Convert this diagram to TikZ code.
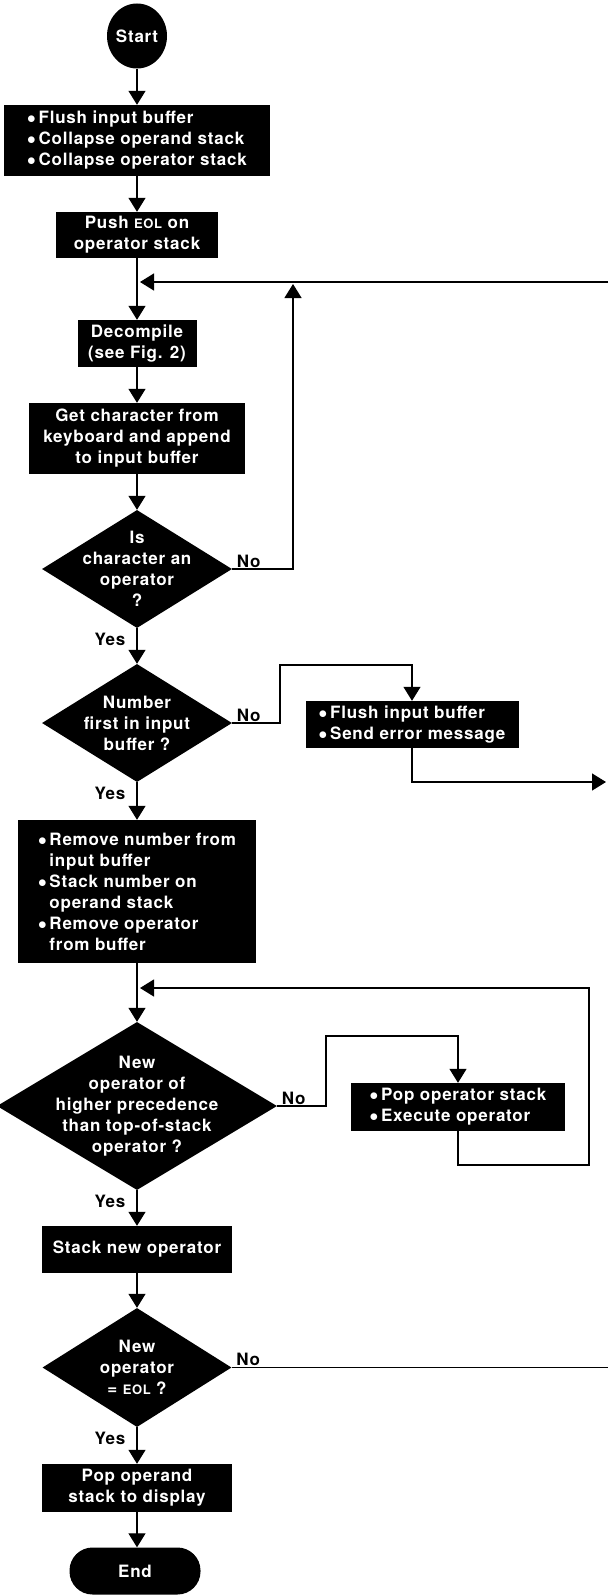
\documentclass[tikz,border=0pt]{standalone}
\usepackage{fontspec}
\usepackage{tikz}
\usetikzlibrary{arrows.meta,shapes.geometric}
\newfontfamily\chartfont[LetterSpace=4.5]{TeX Gyre Heros}
\def\eol{{\fontsize{13}{13}\selectfont EOL}}
\def\bul{$\bullet$\,}

\begin{document}
\begin{tikzpicture}[x=1pt, y=-1pt,
		font={\chartfont\bfseries\fontsize{17}{21}\selectfont},
		box/.style={fill=black, text=white, inner sep=0pt, align=center},
		bullets/.style={box, align=left},
		decision/.style={diamond, fill=black, inner sep=0pt},
		dectext/.style={text=white, align=center, inner sep=0pt},
		link/.style={line width=1.3pt},
		arr/.style={link, -{Triangle[width=17pt,length=14pt]}},
		yeslab/.style={anchor=north east, inner sep=0pt, xshift=-11pt, yshift=-4pt},
		nolab/.style={anchor=base west, inner sep=0pt, xshift=4pt, yshift=2pt}]
			%%%%% START %%%%%
			
			\useasboundingbox (0, 0) rectangle (608, 1595);
			
			\node[ellipse, fill=black, text=white, inner sep=0pt, minimum width=60pt, minimum height=65pt] (start) at (137, 36) {Start};
			\node[bullets, minimum width=266pt, minimum height=71pt] (flush) at (137, 140.5) {\bul Flush input buffer\\\bul Collapse operand stack\\\bul Collapse operator stack};
			\node[box, minimum width=162pt, minimum height=46pt] (pusheol) at (137, 235) {Push \eol{} on\\operator stack};
			\node[box, minimum width=119pt, minimum height=47pt] (decomp) at (137, 343.5) {Decompile\\(see Fig. 2)};
			\node[box, minimum width=216pt, minimum height=71pt] (getchar) at (137, 438.5) {Get character from\\keyboard and append\\to input buffer};
			
			\node[decision, minimum width=190pt, minimum height=118pt, label={[dectext]center:{Is\\character an\\operator\\?}}] (isop) at (137, 569) {};
			\node[decision, minimum width=190pt, minimum height=118pt, label={[dectext]center:{Number\\first in input\\buffer ?}}] (numq) at (137, 723) {};
			\node[bullets, minimum width=213pt, minimum height=47pt] (flusherr) at (412, 724.5) {\bul Flush input buffer\\\bul Send error message};
			
			\node[bullets, minimum width=238pt, minimum height=143pt] (remnum) at (137, 891.5) {\bul Remove number from\\\hphantom{\bul}input buffer\\\bul Stack number on\\\hphantom{\bul}operand stack\\\bul Remove operator\\\hphantom{\bul}from buffer};
			
			\node[decision, minimum width=280pt, minimum height=168pt, label={[dectext]center:{New\\operator of\\higher precedence\\than top-of-stack\\operator ?}}] (precq) at (137, 1106) {};
			\node[bullets, minimum width=214pt, minimum height=48pt] (popexec) at (458, 1107) {\bul Pop operator stack\\\bul Execute operator};
			
			\node[box, minimum width=190pt, minimum height=47pt] (stacknew) at (137, 1249.5) {Stack new operator};
			\node[decision, minimum width=189pt, minimum height=119pt, label={[dectext]center:{New\\operator\\= \eol{} ?}}] (eolq) at (137, 1367.5) {};
			\node[box, minimum width=190pt, minimum height=48pt] (popdisp) at (137, 1488) {Pop operand\\stack to display};
			\node[box, rounded corners=23pt, minimum width=131pt, minimum height=47pt] (stop) at (135, 1571) {End};
			
			\coordinate (loopin) at (608, 282);
			\coordinate (loopjoin) at (140, 282);
			\coordinate (upjoin) at (293, 284);
			\coordinate (nobend) at (280, 665);
			\coordinate (errout) at (606, 782);
			\coordinate (precbend) at (326, 1036);
			\coordinate (retcorner) at (589, 1165);
			\coordinate (retjoin) at (140, 988);
			\coordinate (eolout) at (608, 1367.5);
			
			\draw[arr] (start) -- (flush);
			\draw[arr] (flush) -- (pusheol);
			\draw[arr] (pusheol) -- (decomp);
			\draw[arr] (loopin) -- (loopjoin);
			\draw[arr] (decomp) -- (getchar);
			\draw[arr] (getchar) -- (isop);
			
			\draw[arr] (isop.east) node[nolab] {No} -| (upjoin);
			\draw[arr] (isop) -- node[yeslab, pos=0] {Yes} (numq);
			
			\draw[arr] (numq.east) node[nolab] {No} -| (nobend) -| (flusherr.north);
			\draw[arr] (flusherr.south) |- (errout);
			\draw[arr] (numq) -- node[yeslab, pos=0] {Yes} (remnum);
			
			\draw[arr] (remnum) -- (precq);
			\draw[arr] (precq.east) node[nolab] {No} -| (precbend) -| (popexec.north);
			\draw[arr] (popexec.south) |- (retcorner) |- (retjoin);
			\draw[arr] (precq) -- node[yeslab, pos=0] {Yes} (stacknew);
			
			\draw[arr] (stacknew) -- (eolq);
			\draw[link] (eolq.east) node[nolab] {No} -- (eolout);
			\draw[arr] (eolq) -- node[yeslab, pos=0] {Yes} (popdisp);
			\draw[arr] (popdisp) -- (stop.north -| popdisp.south);
			
			%%%%% END %%%%%
		\end{tikzpicture}
\end{document}
